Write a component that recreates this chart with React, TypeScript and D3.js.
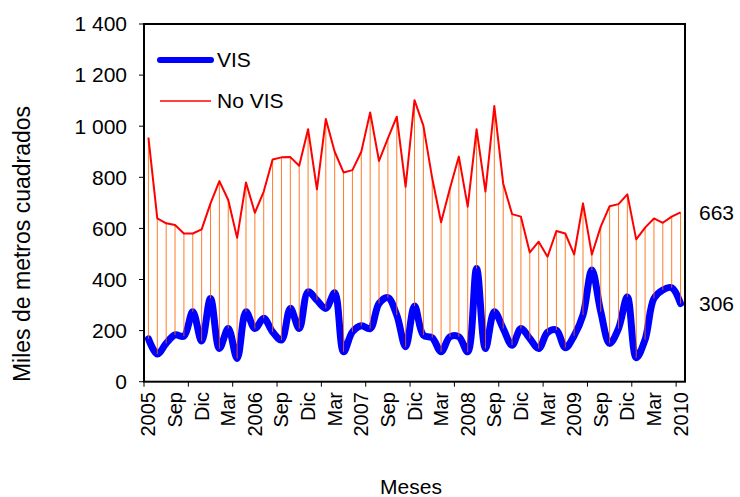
import React from "react";
import * as d3 from "d3";

// monthly values, Jun 2005 .. Jun 2010 (miles de m2)
const noVisValues = [
  955, 639, 620, 613, 580, 580, 596, 698, 785, 711, 563, 780, 661, 744, 870,
  878, 879, 845, 988, 753, 1028, 900, 819, 828, 900, 1054, 864, 952, 1037, 763,
  1102, 1002, 796, 624, 757, 881, 685, 988, 744, 1079, 776, 656, 646, 506, 548,
  489, 590, 580, 498, 698, 498, 607, 687, 695, 733, 557, 603, 639, 622, 646,
  663,
];
const visValues = [
  168, 108, 150, 183, 178, 274, 159, 326, 130, 208, 91, 274, 208, 248, 195,
  163, 287, 208, 352, 319, 287, 348, 117, 195, 219, 208, 306, 329, 261, 137,
  296, 182, 172, 117, 176, 176, 117, 443, 130, 274, 208, 143, 208, 169, 130,
  193, 202, 133, 180, 261, 437, 274, 150, 208, 332, 94, 165, 326, 359, 368,
  306,
];
// one label every 3 months
const xLabels = [
  "2005", "Sep", "Dic", "Mar", "2006", "Sep", "Dic", "Mar", "2007", "Sep", "Dic",
  "Mar", "2008", "Sep", "Dic", "Mar", "2009", "Sep", "Dic", "Mar", "2010",
];
const yTicks = [0, 200, 400, 600, 800, 1000, 1200, 1400];

const W = 740;
const H = 497;
const left = 144;
const right = 685;
const top = 24;
const bottom = 381.7;
const font = "'Liberation Sans', Arial, sans-serif";

export default function App() {
  const idx = d3.range(visValues.length);
  const x = d3.scaleBand<number>().domain(idx).range([left, right]).padding(0);
  const cx = (i: number) => (x(i) as number) + x.bandwidth() / 2;
  const y = d3.scaleLinear().domain([0, 1400]).range([bottom, top]);

  const redLine = d3
    .line<number>()
    .x((_, i) => cx(i))
    .y((v) => y(v))(noVisValues) as string;

  // VIS is drawn smoothed
  const blueLine = d3
    .line<number>()
    .x((_, i) => cx(i))
    .y((v) => y(v))
    .curve(d3.curveCatmullRom.alpha(0.5))(visValues) as string;

  const fmt = (v: number) => d3.format(",")(v).replace(",", " ");
  const xTickIdx = idx.filter((i) => i % 5 === 0);
  const last = visValues.length - 1;

  return (
    <svg
      width={W}
      height={H}
      style={{ position: "absolute", left: 0, top: 0, background: "#fff" }}
      fontFamily={font}
    >
      <path d={blueLine} fill="none" stroke="#0000ff" strokeWidth={7} strokeLinejoin="round" strokeLinecap="round" />
      {/* high-low lines */}
      {idx.map((i) => (
        <line
          key={"hl" + i}
          x1={cx(i)}
          x2={cx(i)}
          y1={y(noVisValues[i])}
          y2={y(visValues[i])}
          stroke="#ff6600"
          strokeWidth={1}
          opacity={0.85}
        />
      ))}
      <path d={redLine} fill="none" stroke="#ff0000" strokeWidth={2} strokeLinejoin="round" />

      {/* frame */}
      <rect x={left} y={top} width={right - left} height={bottom - top} fill="none" stroke="#000" strokeWidth={2} />

      {/* y axis */}
      {yTicks.map((t) => (
        <g key={"y" + t}>
          <line x1={left - 5} x2={left} y1={y(t)} y2={y(t)} stroke="#000" strokeWidth={1} />
          <text x={127} y={y(t)} dy="0.35em" textAnchor="end" fontSize={21}>
            {fmt(t)}
          </text>
        </g>
      ))}

      {/* x axis */}
      {xTickIdx.map((i) => (
        <line key={"xt" + i} x1={x(i)} x2={x(i)} y1={bottom} y2={bottom + 5} stroke="#000" strokeWidth={1} />
      ))}
      {xLabels.map((lab, k) => (
        <text
          key={"xl" + k}
          transform={`translate(${cx(k * 3)},392) rotate(-90)`}
          dy="0.35em"
          textAnchor="end"
          fontSize={20}
        >
          {lab}
        </text>
      ))}

      {/* end labels */}
      <text x={699} y={y(noVisValues[last])} dy="0.35em" fontSize={21}>
        {noVisValues[last]}
      </text>
      <text x={699} y={y(visValues[last])} dy="0.35em" fontSize={21}>
        {visValues[last]}
      </text>

      {/* legend */}
      <line x1={160} x2={211} y1={60} y2={60} stroke="#0000ff" strokeWidth={6} strokeLinecap="round" />
      <text x={217} y={60} dy="0.35em" fontSize={21}>VIS</text>
      <line x1={160} x2={211} y1={101} y2={101} stroke="#ff0000" strokeWidth={1.5} />
      <text x={217} y={101} dy="0.35em" fontSize={21}>No VIS</text>

      {/* titles */}
      <text transform="translate(22,244) rotate(-90)" dy="0.35em" textAnchor="middle" fontSize={23}>
        Miles de metros cuadrados
      </text>
      <text x={411} y={494} textAnchor="middle" fontSize={21}>
        Meses
      </text>
    </svg>
  );
}
